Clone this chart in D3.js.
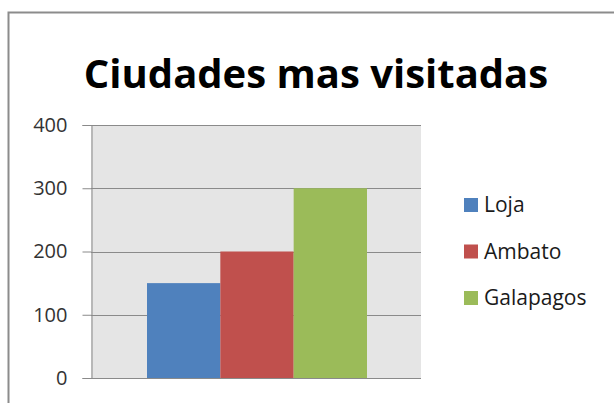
<!DOCTYPE html>
<html>
<head>
<meta charset="utf-8">
<script src="https://cdn.jsdelivr.net/npm/d3@7"></script>
<style>
  body { margin: 0; background: #fff; }
  svg { display: block; font-family: 'Open Sans', sans-serif; }
</style>
</head>
<body>
<svg width="614" height="403"></svg>
<script>
var ciudades = ['Loja', 'Ambato', 'Galapagos'];
var visitas = [150, 200, 300];
var colores = ['#4f81bd', '#c0504d', '#9bbb59'];
var yTicks = [0, 100, 200, 300, 400];
var titulo = 'Ciudades mas visitadas';

var svg = d3.select('svg');

// chart frame (only top and left edges are visible)
svg.append('path')
    .attr('d', 'M8.5,403V12.5H614')
    .attr('fill', 'none')
    .attr('stroke', '#8c8c8c')
    .attr('stroke-width', 2);

var plot = {l: 91, r: 421, t: 125, b: 378};

var yScale = d3.scaleLinear()
    .domain([0, 400])
    .range([plot.b, plot.t]);

var xScale = d3.scaleBand()
    .domain(ciudades)
    .range([147, 367]);

svg.append('rect')
    .attr('x', plot.l)
    .attr('y', plot.t)
    .attr('width', plot.r - plot.l)
    .attr('height', plot.b - plot.t)
    .attr('fill', '#e5e5e5');

// gridlines
svg.append('g')
    .selectAll('line')
    .data(yTicks)
    .enter()
    .append('line')
    .attr('x1', plot.l)
    .attr('x2', plot.r)
    .attr('y1', function(d) { return Math.round(yScale(d)) + 0.5; })
    .attr('y2', function(d) { return Math.round(yScale(d)) + 0.5; })
    .attr('stroke', '#8a8a8a')
    .attr('stroke-width', 1);

svg.selectAll('rect.bar')
    .data(visitas)
    .enter()
    .append('rect')
    .attr('class', 'bar')
    .attr('x', function(d, i) { return xScale(ciudades[i]); })
    .attr('y', function(d) { return yScale(d); })
    .attr('width', xScale.bandwidth())
    .attr('height', function(d) { return plot.b - yScale(d); })
    .attr('fill', function(d, i) { return colores[i]; });

var yAxis = d3.axisLeft(yScale)
    .tickValues(yTicks)
    .tickSize(9)
    .tickPadding(15);

svg.append('g')
    .attr('class', 'y-axis')
    .attr('transform', 'translate(' + (plot.l + 0.5) + ',0)')
    .call(yAxis)
    .call(function(g) {
      g.select('.domain').attr('stroke', '#8a8a8a');
      g.selectAll('.tick line').attr('stroke', '#8a8a8a');
      g.selectAll('.tick text')
          .attr('fill', '#333')
          .style('font-family', "'Open Sans', sans-serif")
          .style('font-size', '20px');
    });

svg.append('text')
    .attr('x', 316)
    .attr('y', 88)
    .attr('text-anchor', 'middle')
    .style('font-family', "'Open Sans', sans-serif")
    .style('font-weight', 'bold')
    .style('font-size', '40px')
    .style('fill', '#000')
    .text(titulo);

var legend = svg.append('g')
    .selectAll('g')
    .data(ciudades)
    .enter()
    .append('g')
    .attr('transform', function(d, i) { return 'translate(464,' + (205 + i * 46.5) + ')'; });

legend.append('rect')
    .attr('x', 0)
    .attr('y', -7)
    .attr('width', 14)
    .attr('height', 14)
    .attr('fill', function(d, i) { return colores[i]; });

legend.append('text')
    .attr('x', 20)
    .attr('y', 0)
    .attr('dy', '0.35em')
    .style('font-size', '21px')
    .style('fill', '#1a1a1a')
    .text(function(d) { return d; });
</script>
</body>
</html>
